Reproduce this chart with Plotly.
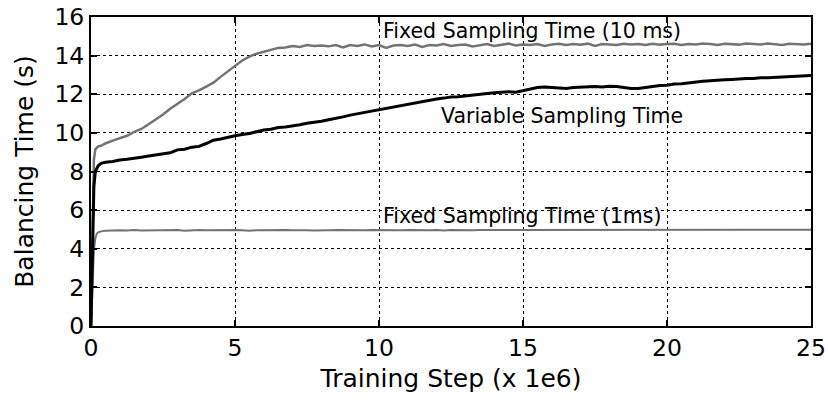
import plotly.graph_objects as go

# x positions (training step, x 1e6): dense start, then every 0.25
x_start = [0, 0.05, 0.1, 0.15, 0.2, 0.25, 0.35]
x_grid = [0.5 + 0.25 * i for i in range(99)]
steps = x_start + x_grid

fixed_10ms = [0, 4.5, 8.6, 9.15, 9.25, 9.3, 9.33,
    9.45, 9.6,
    9.72, 9.85, 10.05, 10.2,
    10.45, 10.7, 10.95, 11.25,
    11.5, 11.75, 12.05, 12.2,
    12.4, 12.6, 12.9, 13.2,
    13.5, 13.75, 13.95, 14.1,
    14.2, 14.3, 14.4, 14.42,
    14.5, 14.45, 14.55, 14.5,
    14.52, 14.48, 14.55, 14.42,
    14.55, 14.5, 14.58, 14.47,
    14.55, 14.4, 14.52, 14.55,
    14.5, 14.57, 14.45, 14.55,
    14.52, 14.6, 14.5, 14.55,
    14.58, 14.48, 14.55, 14.6,
    14.5, 14.57, 14.62, 14.52,
    14.58, 14.55, 14.6, 14.5,
    14.58, 14.62, 14.55, 14.6,
    14.56, 14.62, 14.5, 14.6,
    14.58, 14.55, 14.62, 14.58,
    14.6, 14.55, 14.62, 14.57,
    14.6, 14.62, 14.55, 14.6,
    14.58, 14.63, 14.6, 14.55,
    14.62, 14.6, 14.57, 14.63,
    14.6, 14.58, 14.63, 14.6,
    14.55, 14.62, 14.6, 14.58,
    14.62]

variable = [0, 3.5, 7.2, 8.0, 8.2, 8.3, 8.42,
    8.48, 8.52,
    8.6, 8.64, 8.68, 8.74,
    8.8, 8.86, 8.9, 8.97,
    9.12, 9.15, 9.26, 9.3,
    9.45, 9.62, 9.68, 9.78,
    9.85, 9.92, 9.97, 10.06,
    10.15, 10.19, 10.28, 10.31,
    10.36, 10.42, 10.5, 10.54,
    10.6, 10.68, 10.74, 10.83,
    10.92, 10.99, 11.06, 11.15,
    11.22, 11.26, 11.35, 11.41,
    11.48, 11.56, 11.62, 11.67,
    11.75, 11.8, 11.86, 11.87,
    11.92, 11.96, 12.0, 12.04,
    12.08, 12.11, 12.13, 12.1,
    12.18, 12.26, 12.35, 12.37,
    12.35, 12.32, 12.3, 12.35,
    12.36, 12.39, 12.4, 12.37,
    12.42, 12.4, 12.35, 12.3,
    12.3, 12.36, 12.4, 12.45,
    12.47, 12.53, 12.55, 12.6,
    12.62, 12.67, 12.7, 12.71,
    12.75, 12.77, 12.8, 12.81,
    12.82, 12.86, 12.86, 12.88,
    12.9, 12.89, 12.92, 12.95,
    12.97]

fixed_1ms = [0, 2.0, 3.9, 4.55, 4.78, 4.85, 4.9,
    4.93, 4.95,
    4.96, 4.94, 4.97, 4.95,
    4.96, 4.97, 4.95, 4.96,
    4.97, 4.93, 4.96, 4.97,
    4.96, 4.97, 4.95, 4.97,
    4.97, 4.96, 4.93, 4.96,
    4.97, 4.95, 4.96, 4.97,
    4.96, 4.97, 4.96, 4.95,
    4.97, 4.96, 4.97, 4.96,
    4.95, 4.97, 4.96, 4.97,
    4.96, 4.97, 4.95, 4.96,
    4.97, 4.96, 4.97, 4.96,
    4.97, 4.95, 4.97, 4.96,
    4.97, 4.96, 4.97, 4.97,
    4.96, 4.97, 4.95, 4.97,
    4.97, 4.96, 4.97, 4.96,
    4.97, 4.97, 4.96, 4.97,
    4.96, 4.97, 4.97, 4.96,
    4.97, 4.96, 4.97, 4.97,
    4.96, 4.97, 4.97, 4.96,
    4.97, 4.97, 4.96, 4.97,
    4.97, 4.96, 4.97, 4.97,
    4.96, 4.97, 4.97, 4.98,
    4.97, 4.97, 4.96, 4.97,
    4.97, 4.98, 4.97, 4.97,
    4.98]

x_ticks = [0, 5, 10, 15, 20, 25]
y_ticks = [0, 2, 4, 6, 8, 10, 12, 14, 16]

labels = ["Fixed Sampling Time (10 ms)", "Variable Sampling Time", "Fixed Sampling Time (1ms)"]
label_x = [15.3, 16.35, 14.97]
label_y = [15.26, 10.88, 5.72]

GRAY = "#737373"
FONT = "DejaVu Sans"

fig = go.Figure()
fig.add_trace(go.Scatter(x=steps, y=fixed_1ms, mode="lines",
                         line=dict(color=GRAY, width=2), showlegend=False))
fig.add_trace(go.Scatter(x=steps, y=fixed_10ms, mode="lines",
                         line=dict(color=GRAY, width=2.5), showlegend=False))
fig.add_trace(go.Scatter(x=steps, y=variable, mode="lines",
                         line=dict(color="black", width=3), showlegend=False))

for t, ax, ay in zip(labels, label_x, label_y):
    fig.add_annotation(x=ax, y=ay, text=t, showarrow=False, xref="x", yref="y",
                       font=dict(family=FONT, size=20.5, color="black"))

axis_common = dict(
    showline=True, linewidth=2, linecolor="black", mirror="allticks",
    ticks="inside", ticklen=6, tickwidth=1.5, tickcolor="black",
    showgrid=True, gridcolor="black", griddash="dot", gridwidth=1,
    zeroline=False, automargin=False, ticklabeloverflow="allow",
    tickfont=dict(family=FONT, size=23.5, color="black"),
)

fig.update_xaxes(range=[0, 25], tickvals=x_ticks, ticktext=[str(v) for v in x_ticks],
                 title=dict(text="Training Step (x 1e6)", font=dict(family=FONT, size=25, color="black"),
                            standoff=8),
                 **axis_common)
fig.update_yaxes(range=[0, 16], tickvals=y_ticks, ticktext=[str(v) for v in y_ticks],
                 title=dict(text="Balancing Time (s)", font=dict(family=FONT, size=25, color="black"),
                            standoff=14),
                 **axis_common)

fig.update_layout(width=828, height=400, margin=dict(l=91, r=17, t=17, b=74),
                  plot_bgcolor="white", paper_bgcolor="white",
                  font=dict(family=FONT, color="black"))

# remove the page's default body margin so the figure fills the window exactly
fig.write_html("out.html", config={"displayModeBar": False},
               post_script="document.body.style.margin='0';document.body.style.overflow='hidden';")
